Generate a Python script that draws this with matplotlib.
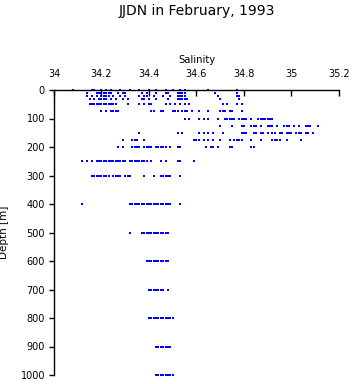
import matplotlib
matplotlib.use('Agg')
import matplotlib.pyplot as plt
import numpy as np

# Salinity samples per depth
depths = [0, 10, 20, 30, 50, 75, 100, 125, 150, 175, 200, 250, 300,
          400, 500, 600, 700, 800, 900, 1000]

salinity = {
    0: [34.08, 34.16, 34.17, 34.20, 34.22, 34.24, 34.28, 34.32, 34.36, 34.40,
        34.43, 34.47, 34.50, 34.53, 34.55, 34.65, 34.77],
    10: [34.14, 34.18, 34.19, 34.20, 34.21, 34.22, 34.23, 34.24, 34.27, 34.29,
         34.30, 34.37, 34.39, 34.43, 34.47, 34.48, 34.52, 34.53, 34.54, 34.55,
         34.68, 34.77],
    20: [34.14, 34.16, 34.18, 34.20, 34.21, 34.22, 34.23, 34.25, 34.28, 34.30,
         34.36, 34.38, 34.39, 34.42, 34.46, 34.49, 34.52, 34.53, 34.54, 34.55,
         34.69, 34.77, 34.78],
    30: [34.15, 34.17, 34.19, 34.20, 34.21, 34.22, 34.24, 34.26, 34.29, 34.31,
         34.37, 34.38, 34.40, 34.43, 34.48, 34.52, 34.53, 34.54, 34.55, 34.56,
         34.70, 34.78],
    50: [34.15, 34.16, 34.17, 34.18, 34.19, 34.20, 34.21, 34.22, 34.23, 34.24,
         34.25, 34.26, 34.31, 34.36, 34.38, 34.40, 34.41, 34.47, 34.49, 34.51,
         34.53, 34.55, 34.57, 34.71, 34.73, 34.77, 34.79],
    75: [34.20, 34.22, 34.24, 34.25, 34.26, 34.27, 34.41, 34.42, 34.45, 34.46,
         34.50, 34.51, 34.52, 34.54, 34.55, 34.56, 34.58, 34.61, 34.65, 34.70,
         34.71, 34.72, 34.74, 34.75, 34.79],
    100: [34.55, 34.57, 34.61, 34.63, 34.65, 34.69, 34.72, 34.73, 34.74, 34.75,
          34.76, 34.78, 34.79, 34.80, 34.81, 34.83, 34.86, 34.87, 34.88, 34.89,
          34.90, 34.91, 34.92],
    125: [34.70, 34.75, 34.79, 34.80, 34.83, 34.84, 34.85, 34.87, 34.90, 34.91,
          34.92, 34.94, 34.97, 34.98, 34.99, 35.01, 35.03, 35.06, 35.07, 35.08,
          35.11],
    150: [34.36, 34.52, 34.54, 34.61, 34.63, 34.65, 34.67, 34.71, 34.79, 34.80,
          34.81, 34.84, 34.85, 34.87, 34.88, 34.90, 34.92, 34.93, 34.95, 34.96,
          34.98, 34.99, 35.00, 35.02, 35.03, 35.04, 35.06, 35.07, 35.09],
    175: [34.29, 34.33, 34.34, 34.35, 34.38, 34.59, 34.60, 34.61, 34.63, 34.65,
          34.67, 34.70, 34.74, 34.76, 34.77, 34.78, 34.79, 34.83, 34.87, 34.92,
          34.93, 34.94, 34.95, 34.98, 35.04],
    200: [34.27, 34.29, 34.33, 34.34, 34.35, 34.36, 34.38, 34.39, 34.40, 34.41,
          34.43, 34.44, 34.45, 34.46, 34.47, 34.49, 34.52, 34.53, 34.64, 34.66,
          34.67, 34.69, 34.74, 34.75, 34.83, 34.84],
    250: [34.12, 34.14, 34.16, 34.18, 34.19, 34.20, 34.21, 34.22, 34.23, 34.24,
          34.25, 34.26, 34.27, 34.28, 34.29, 34.30, 34.32, 34.33, 34.34, 34.35,
          34.36, 34.37, 34.38, 34.39, 34.41, 34.45, 34.47, 34.52, 34.53, 34.59],
    300: [34.16, 34.17, 34.18, 34.19, 34.20, 34.21, 34.22, 34.23, 34.25, 34.26,
          34.27, 34.28, 34.30, 34.31, 34.32, 34.38, 34.42, 34.45, 34.46, 34.47,
          34.48, 34.49, 34.53],
    400: [34.12, 34.32, 34.33, 34.34, 34.35, 34.36, 34.37, 34.38, 34.39, 34.40,
          34.41, 34.42, 34.43, 34.44, 34.45, 34.46, 34.47, 34.48, 34.49, 34.53],
    500: [34.32, 34.37, 34.38, 34.39, 34.40, 34.41, 34.42, 34.43, 34.44, 34.45,
          34.46, 34.47, 34.48],
    600: [34.39, 34.40, 34.41, 34.42, 34.43, 34.44, 34.45, 34.46, 34.47, 34.48],
    700: [34.40, 34.41, 34.42, 34.43, 34.44, 34.45, 34.46, 34.48],
    800: [34.40, 34.41, 34.42, 34.43, 34.44, 34.45, 34.46, 34.47, 34.48, 34.49,
          34.50],
    900: [34.43, 34.44, 34.45, 34.46, 34.47, 34.48, 34.49],
    1000: [34.43, 34.44, 34.45, 34.46, 34.47, 34.48, 34.49, 34.50],
}

xticks = [34, 34.2, 34.4, 34.6, 34.8, 35, 35.2]
xtick_labels = ['34', '34.2', '34.4', '34.6', '34.8', '35', '35.2']
yticks = [0, 100, 200, 300, 400, 500, 600, 700, 800, 900, 1000]

plt.rcParams['font.family'] = ['DejaVu Sans']

fig = plt.figure(figsize=(3.53, 3.84), dpi=100)
ax = fig.add_axes([54 / 353, 9 / 384, 285 / 353, 285 / 384])

# Scatter: one row of points per depth
for d in depths:
    s = salinity[d]
    ax.plot(s, [d] * len(s), linestyle='none', marker='s', markersize=1.8,
            color='#0000ff', markeredgewidth=0, clip_on=False)

ax.set_xlim(34, 35.2)
ax.set_ylim(1000, 0)

ax.xaxis.tick_top()
ax.xaxis.set_label_position('top')
ax.set_xticks(xticks)
ax.set_xticklabels(xtick_labels)
ax.set_yticks(yticks)

ax.tick_params(axis='x', direction='in', length=4, width=1, pad=8, labelsize=7)
ax.tick_params(axis='y', direction='out', length=3.5, width=1, pad=3, labelsize=7)

ax.spines['right'].set_visible(False)
ax.spines['bottom'].set_visible(False)
for side in ['top', 'left']:
    ax.spines[side].set_linewidth(1)

ax.set_xlabel('Salinity', fontsize=7.2, labelpad=4)
ax.set_ylabel('Depth [m]', fontsize=7.5, labelpad=8)
fig.suptitle('JJDN in February, 1993', fontsize=10, x=196.5 / 353, y=1 - 11 / 384,
             va='center')

plt.savefig('out.png', dpi=100)
